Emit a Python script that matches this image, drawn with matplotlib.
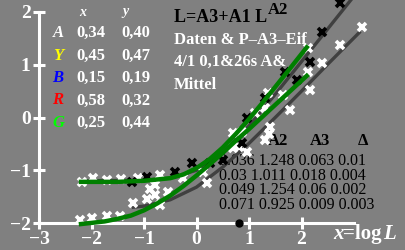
import matplotlib
matplotlib.use('Agg')
import matplotlib.pyplot as plt

plt.rcParams['font.family'] = ['Liberation Serif', 'DejaVu Serif']

# fitted curves (x = log L, y)
green_hi_x = [-2.2, -1.5, -1.0, -0.5, -0.25, 0.0, 0.25, 0.5, 0.75, 1.0, 1.25, 1.5, 1.75, 2.1]
green_hi_y = [-1.22, -1.22, -1.20, -1.15, -1.08, -0.96, -0.79, -0.57, -0.31, -0.03, 0.27, 0.58, 0.89, 1.33]
green_lo_x = [-2.2, -1.75, -1.5, -1.25, -1.0, -0.75, -0.5, -0.25, 0.0, 0.25, 0.5, 0.75, 1.0, 1.5, 2.1]
green_lo_y = [-2.02, -1.97, -1.92, -1.86, -1.76, -1.63, -1.48, -1.30, -1.10, -0.89, -0.67, -0.44, -0.22, 0.24, 0.79]
gray_hi_x = [-2.2, -1.0, -0.5, 0.0, 0.5, 1.0, 1.5, 2.0, 2.5, 2.95]
gray_hi_y = [-1.20, -1.19, -1.15, -1.00, -0.67, -0.16, 0.44, 1.06, 1.68, 2.24]
gray_lo_x = [-1.2, -1.0, -0.5, 0.0, 0.5, 1.0, 1.5, 2.0, 2.5, 3.1]
gray_lo_y = [-1.70, -1.68, -1.56, -1.32, -0.94, -0.49, 0.00, 0.50, 1.01, 1.61]

# measured points
black_x = [-1.23, -0.94, -0.41, -0.09, 0.26, 0.50, 0.87, 0.96, 1.30, 1.69, 1.91, 2.16, 2.39, 2.73]
black_y = [-1.22, -1.13, -1.03, -0.86, -0.86, -0.81, -0.48, -0.01, 0.37, 0.86, 0.71, 1.05, 1.62, 2.17]
white_x = [-2.18, -1.97, -1.70, -1.44, -1.11, -0.70, -0.79, -0.54,
           -2.22, -1.99, -1.70, -1.46, -1.21, -0.79, -0.70, -0.26, 0.12, 0.20,
           0.70, 0.70, 0.87, 0.96, 1.11, 1.30, 1.30, 1.36, 1.40, 1.65, 1.78,
           2.12, 2.16, 2.39, 2.73, 3.15, 2.12, -0.88, -0.95, 0.80, 1.38]
white_y = [-1.22, -1.15, -1.18, -1.17, -1.15, -1.09, -1.28, -1.41,
           -1.94, -1.91, -1.87, -1.87, -1.62, -1.47, -1.66, -1.15, -1.03, -1.24,
           -0.58, -0.29, -0.27, -0.65, 0.09, 0.18, -0.43, 0.46, -0.18, 0.43, 0.14,
           0.86, 0.52, 1.03, 1.37, 1.72, 1.32, -1.35, -1.55, -0.55, -0.31]
dot_x = [0.81]
dot_y = [-2.0]

rows_lab = ['A', 'Y', 'B', 'R', 'G']
rows_col = ['white', '#ffff00', '#0000ff', '#ff0000', '#00ff00']
rows_x = ['0,34', '0,45', '0,15', '0,58', '0,25']
rows_y = ['0,40', '0,47', '0,19', '0,32', '0,44']
fit_rows = ['0.036 1.248 0.063 0.01', '0.03 1.011 0.018 0.004',
            '0.049 1.254 0.06 0.002', '0.071 0.925 0.009 0.003']

W, H = 405, 250
fig = plt.figure(figsize=(W / 100, H / 100), dpi=100)
fig.patch.set_facecolor('#808080')
ax = fig.add_axes([39 / W, 27 / H, 315 / W, 211 / H])
ax.set_facecolor('none')
ax.set_xlim(-3, 3)
ax.set_ylim(-2, 2)

for s in ['top', 'right']:
    ax.spines[s].set_visible(False)
for s in ['left', 'bottom']:
    ax.spines[s].set_color('white')
    ax.spines[s].set_linewidth(2.2)
ax.set_xticks([-3, -2, -1, 0, 1, 2])
ax.set_yticks([-2, -1, 0, 1, 2])
ax.tick_params(colors='white', direction='inout', length=8, width=2.2, labelsize=14, pad=2)
for lab in ax.get_xticklabels() + ax.get_yticklabels():
    lab.set_fontweight('bold')

ax.plot(gray_hi_x, gray_hi_y, color='#404040', lw=2.4, zorder=2, clip_on=False)
ax.plot(gray_lo_x, gray_lo_y, color='#404040', lw=2.4, zorder=2, clip_on=False)
ax.plot(white_x, white_y, 'x', color='white', ms=5.5, mew=2.6, zorder=3, clip_on=False)
ax.plot(black_x, black_y, 'x', color='black', ms=5.5, mew=2.6, zorder=3, clip_on=False)
ax.plot(green_hi_x, green_hi_y, color='#007f00', lw=3.2, zorder=4, clip_on=False)
ax.plot(green_lo_x, green_lo_y, color='#007f00', lw=3.2, zorder=4, clip_on=False)
ax.plot(dot_x, dot_y, 'o', color='black', ms=5, zorder=5, clip_on=False)

def ftext(px, py, s, **kw):
    kw.setdefault('zorder', 1)
    ax.text(px / W, 1 - py / H, s, transform=fig.transFigure, va='center', **kw)

# left table
ftext(79, 12, 'x', color='white', fontsize=10, style='italic', fontweight='bold')
ftext(122, 12, 'y', color='white', fontsize=10, style='italic', fontweight='bold')
for i in range(len(rows_lab)):
    py = 33 + i * 22.5
    ftext(58, py, rows_lab[i], color=rows_col[i], fontsize=12, style='italic',
          fontweight='bold', ha='center')
    ftext(76, py, rows_x[i], color='white', fontsize=12, fontweight='bold')
    ftext(121, py, rows_y[i], color='white', fontsize=12, fontweight='bold')

# formula and info
ftext(174, 18, 'L=A3+A1 L', color='black', fontsize=13, fontweight='bold')
ftext(268, 10, 'A2', color='black', fontsize=12, fontweight='bold')
ftext(174, 40, 'Daten & P\u2013A3\u2013Eif', color='white', fontsize=12, fontweight='bold')
ftext(174, 62, '4/1 0,1&26s A&', color='white', fontsize=12, fontweight='bold')
ftext(174, 85, 'Mittel', color='white', fontsize=12, fontweight='bold')

# fit parameter table
ftext(268, 141, 'A2', color='black', fontsize=12, fontweight='bold')
ftext(310, 141, 'A3', color='black', fontsize=12, fontweight='bold')
ftext(358, 141, '\u0394', color='black', fontsize=12, fontweight='bold')
for i in range(len(fit_rows)):
    ftext(219, 161 + i * 14.7, fit_rows[i], color='black', fontsize=11.5)

# axis label x=log L
ftext(333, 234, 'x', color='white', fontsize=15, style='italic', fontweight='bold')
ftext(343, 234, '=log', color='white', fontsize=15, fontweight='bold')
ftext(383, 234, 'L', color='white', fontsize=15, style='italic', fontweight='bold')

fig.savefig('out.png', dpi=100, facecolor=fig.get_facecolor())
